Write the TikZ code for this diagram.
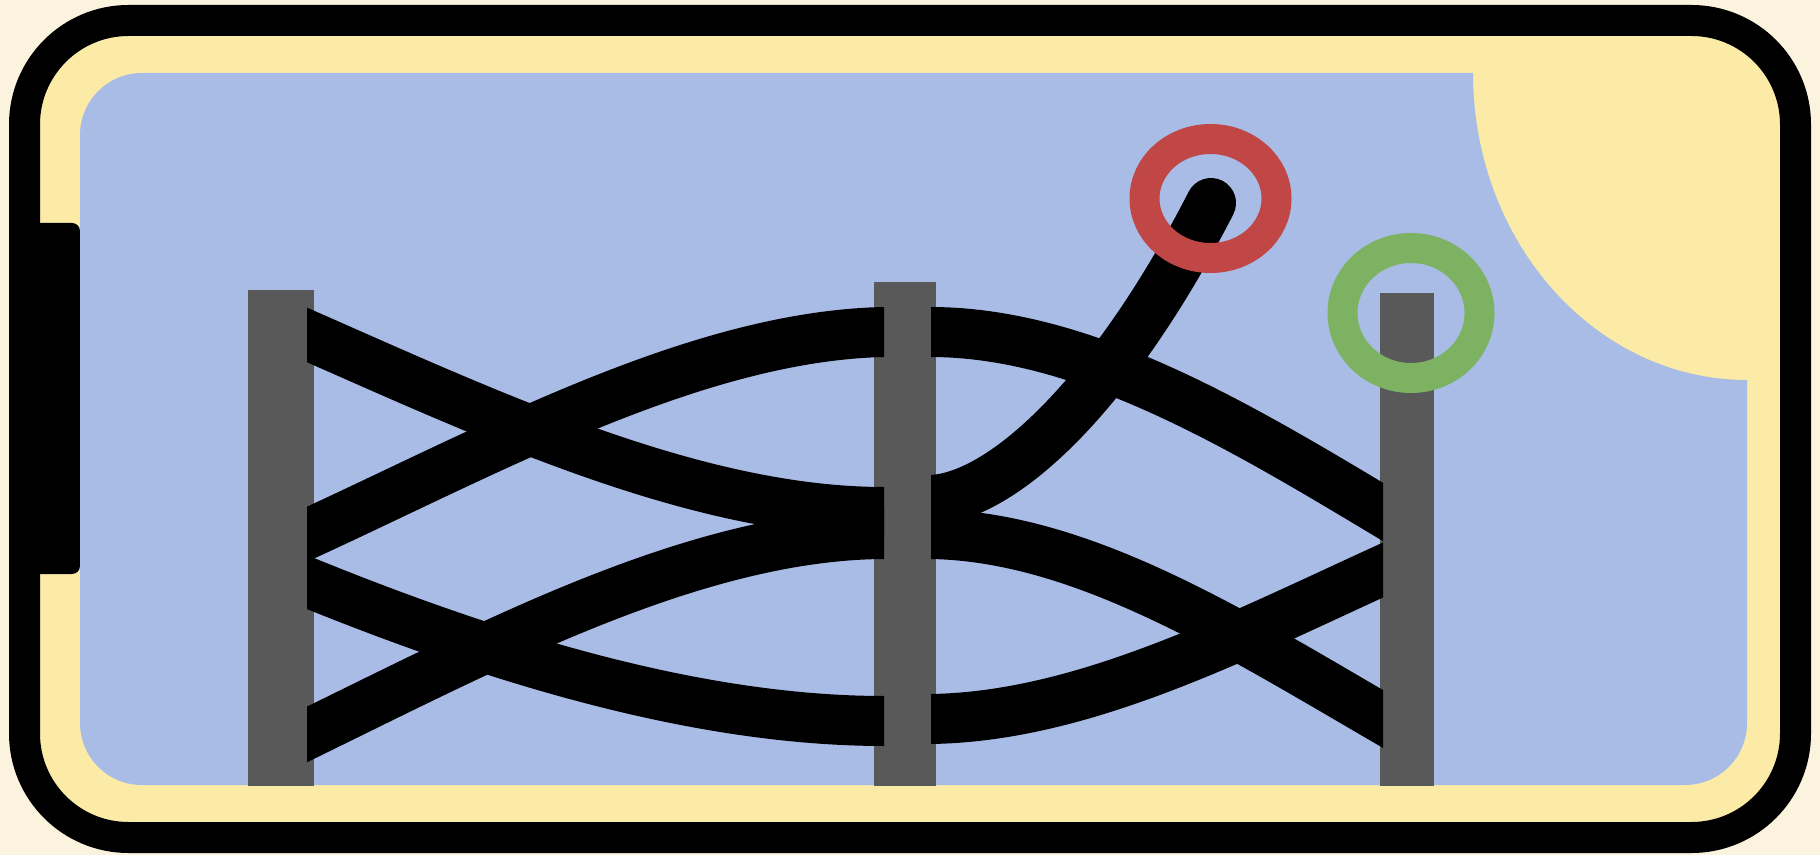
\documentclass[tikz,border=0pt]{standalone}
\definecolor{creamc}{HTML}{FCF3DE}
\definecolor{phonec}{HTML}{FCEBA7}
\definecolor{screenc}{HTML}{A9BCE6}
\definecolor{barc}{HTML}{595959}
\definecolor{ringred}{HTML}{C04745}
\definecolor{ringgreen}{HTML}{7DB262}
\begin{document}
\begin{tikzpicture}[x=0.5pt,y=-0.5pt,
  wire/.style={draw=black, line width=25pt, line cap=butt, line join=round},
  postbar/.style={fill=barc},
  ring/.style={line width=15pt}]
\useasboundingbox (0,0) rectangle (1820,855);
\fill[creamc] (0,0) rectangle (1820,855);
% phone body
\draw[line width=15.5pt, fill=phonec, rounded corners=52pt] (24.5,20.5) rectangle (1795.5,837.5);
% side button
\fill[black, rounded corners=4pt] (30,223) rectangle (80,574);
% screen
\fill[screenc] (142,73) -- (1473,73)
  arc[start angle=180, end angle=90, x radius=274, y radius=307]
  -- (1747,723) arc[start angle=0, end angle=90, radius=62]
  -- (142,785) arc[start angle=90, end angle=180, radius=62]
  -- (80,135) arc[start angle=180, end angle=270, radius=62] -- cycle;
% posts
\fill[postbar] (248,290) rectangle (314,786);
\fill[postbar] (874,282) rectangle (936,786);
\fill[postbar] (1380,293) rectangle (1434,786);
% wires between post 1 and post 2
\begin{scope}
\clip (307,0) rectangle (884,855);
\draw[wire] (294,329.2) -- (314,338) .. controls (500,420) and (700,512) .. (884,512) -- ++(20,0);
\draw[wire] (294,540.2) -- (314,531) .. controls (500,445) and (700,336) .. (884,332) -- ++(20,0);
\draw[wire] (294,576.9) -- (314,585) .. controls (500,660) and (700,721) .. (884,721) -- ++(20,0);
\draw[wire] (294,740.8) -- (314,731) .. controls (500,640) and (700,535) .. (884,534) -- ++(20,0);
\end{scope}
% wires between post 2 and post 3
\begin{scope}
\clip (931,0) rectangle (1383,855);
\draw[wire] (910,332) -- (930,332) .. controls (1080,332) and (1230,420) .. (1383,512) -- (1403,524);
\draw[wire] (910,534) -- (930,534) .. controls (1080,536) and (1230,630) .. (1383,719) -- (1403,730.6);
\draw[wire] (910,719) -- (930,719) .. controls (1080,717) and (1230,640) .. (1383,570) -- (1403,560.8);
\draw[wire, line cap=round] (910,500) -- (930,500) .. controls (1000,498) and (1110,400) .. (1211,203);
\end{scope}
% rings
\draw[ringred, ring] (1210.5,198.5) ellipse [x radius=66, y radius=59.5];
\draw[ringgreen, ring] (1411,313) ellipse [x radius=68.5, y radius=65];
\end{tikzpicture}
\end{document}
